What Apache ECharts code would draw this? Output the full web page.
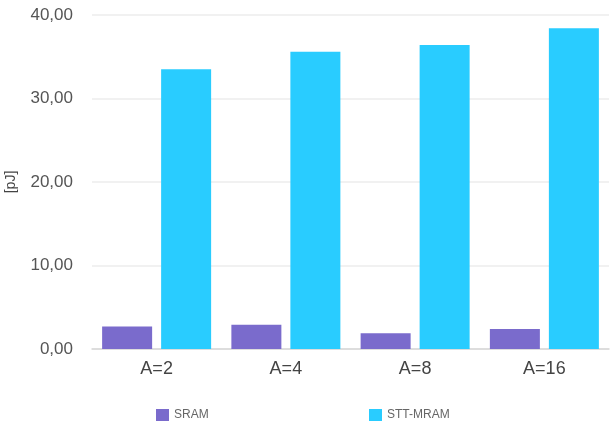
<!DOCTYPE html>
<html><head><meta charset="utf-8">
<script src="https://cdn.jsdelivr.net/npm/echarts@6/dist/echarts.min.js"></script>
<style>html,body{margin:0;padding:0;background:#fff}#c{width:613px;height:423px}</style>
</head><body><div id="c"></div>
<script>
const categories = ['A=2', 'A=4', 'A=8', 'A=16'];
const sramValues = [2.7, 2.9, 1.9, 2.4];
const sttValues = [33.5, 35.6, 36.4, 38.4];
const seriesNames = ['SRAM', 'STT-MRAM'];

const chart = echarts.init(document.getElementById('c'), null, {renderer: 'canvas'});
const font = 'Helvetica, "Liberation Sans", Arial, sans-serif';
chart.setOption({
  animation: false,
  backgroundColor: '#fff',
  grid: {left: 92, right: 4, top: 15, bottom: 74, containLabel: false, outerBoundsMode: 'none'},
  legend: [
    {data: [seriesNames[0]], left: 151, top: 404, itemWidth: 13, itemHeight: 12, icon: 'rect', itemGap: 8,
     textStyle: {fontFamily: font, fontSize: 12, color: '#666'}},
    {data: [seriesNames[1]], left: 364, top: 404, itemWidth: 13, itemHeight: 12, icon: 'rect', itemGap: 8,
     textStyle: {fontFamily: font, fontSize: 12, color: '#666'}}
  ],
  xAxis: {
    type: 'category', data: categories,
    axisLine: {lineStyle: {color: '#d6d6d6', width: 1.5}},
    axisTick: {show: false},
    axisLabel: {fontFamily: font, fontSize: 18, color: '#444', margin: 11}
  },
  yAxis: {
    type: 'value', min: 0, max: 40, interval: 10,
    name: '[pJ]', nameLocation: 'middle', nameGap: 74, nameRotate: 90,
    nameTextStyle: {fontFamily: font, fontSize: 14, color: '#444'},
    axisLine: {show: false}, axisTick: {show: false},
    splitLine: {lineStyle: {color: '#ececec', width: 1.5}},
    axisLabel: {fontFamily: font, fontSize: 17, color: '#555', margin: 19,
      formatter: v => v.toFixed(2).replace('.', ',')}
  },
  series: [
    {name: seriesNames[0], type: 'bar', data: sramValues, barWidth: 50, barGap: '18%',
     itemStyle: {color: '#7a6bcc'}},
    {name: seriesNames[1], type: 'bar', data: sttValues, barWidth: 50,
     itemStyle: {color: '#29ccff'}}
  ]
});
</script></body></html>
